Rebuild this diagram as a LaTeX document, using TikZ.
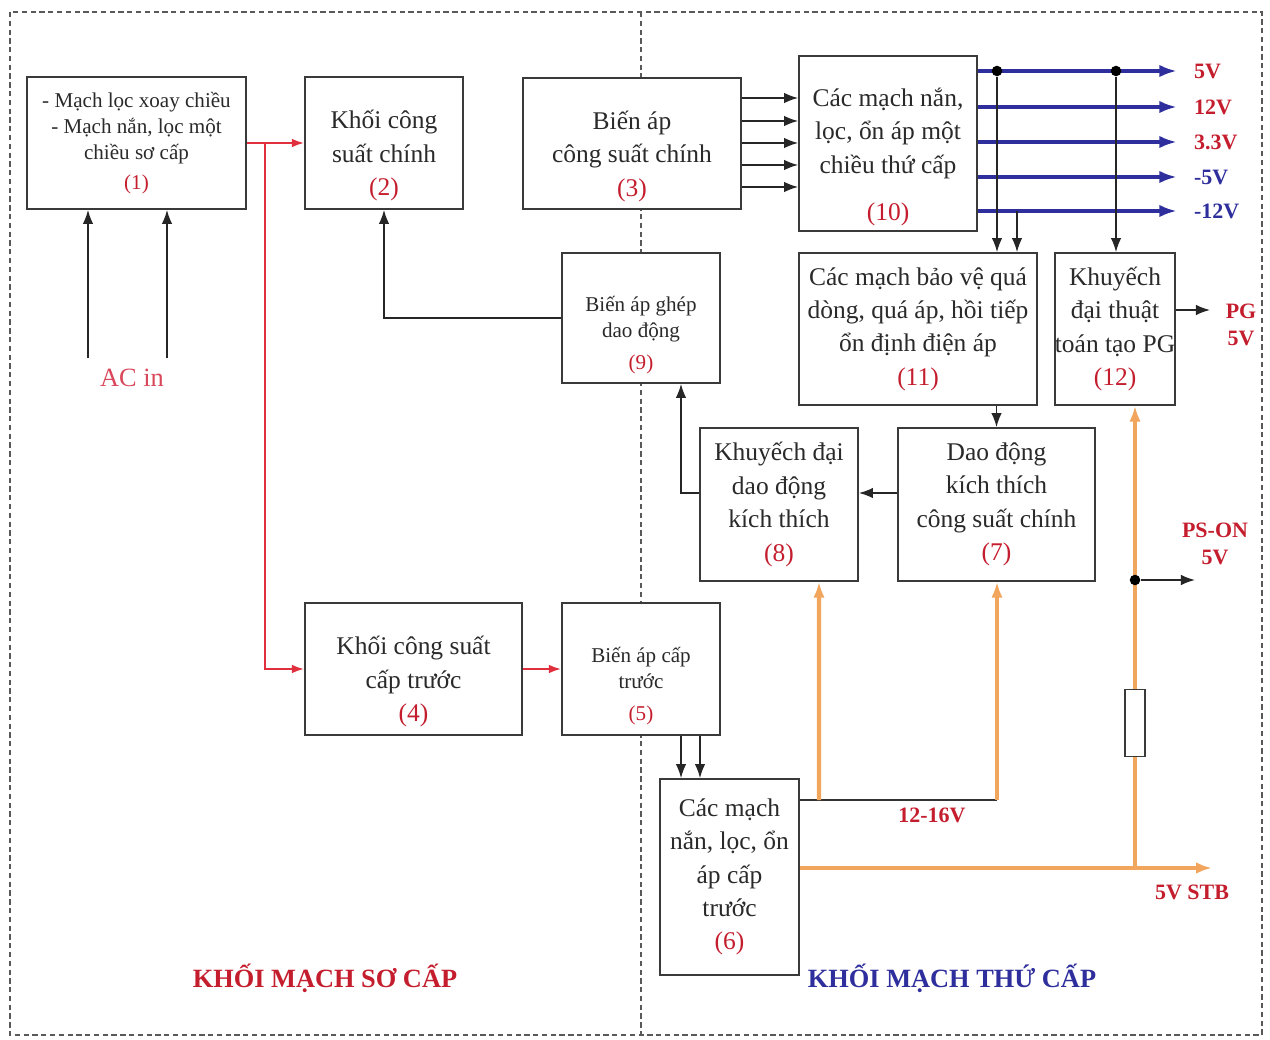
\documentclass[tikz,border=0pt]{standalone}
\usepackage{fontspec}
\setmainfont{Liberation Serif}
\usetikzlibrary{arrows.meta}

\definecolor{numred}{HTML}{C41E2E}
\definecolor{acred}{HTML}{D8485A}
\definecolor{linered}{HTML}{E0303E}
\definecolor{lineblue}{HTML}{2E2E9C}
\definecolor{lineorange}{HTML}{F2A55C}
\definecolor{boxgray}{HTML}{3A3A3A}
\definecolor{txtgray}{HTML}{2A2A2A}

\newcommand{\bnum}[1]{\textcolor{numred}{#1}}
\newcommand{\lowr}[1]{\rule{0pt}{#1}}

\begin{document}
\begin{tikzpicture}[
    x=0.02cm, y=-0.02cm,
    box/.style={draw=boxgray, fill=white, line width=1pt, align=center, inner sep=1pt, text=txtgray, font=\fontsize{14.5}{19}\selectfont},
    smallbox/.style={box, font=\fontsize{12}{15}\selectfont},
    arr/.style={-{Latex[length=8pt,width=6pt]}, line width=0.9pt, draw=black!85},
    redarr/.style={-{Latex[length=7pt,width=5pt]}, line width=1.2pt, draw=linered},
    bluearr/.style={-{Latex[length=10pt,width=7pt]}, line width=2.4pt, draw=lineblue},
    orangearr/.style={-{Latex[length=9pt,width=6.5pt]}, line width=2.4pt, draw=lineorange},
    dot/.style={circle, fill=black, minimum size=6pt, inner sep=0pt},
    lab/.style={font=\bfseries\fontsize{12.5}{15}\selectfont, inner sep=1pt},
    frame/.style={draw=black!65, line width=0.8pt, dash pattern=on 3pt off 2pt}
]
\useasboundingbox (0,0) rectangle (1270,1040);

% ==================== FRAME ====================
\draw[frame] (10,12) rectangle (1262,1035);
\draw[frame] (641,12) -- (641,1035);

% ==================== BLOCKS ====================
\node[smallbox, minimum width=4.38cm, minimum height=2.64cm] (acfilt) at (136.5,143)
    {- Mạch lọc xoay chiều\\- Mạch nắn, lọc một\\chiều sơ cấp\\[2pt]\bnum{(1)}};
\node[box, minimum width=3.16cm, minimum height=2.64cm] (mainpow) at (384,143)
    {\lowr{25pt}Khối công\\suất chính\\\bnum{(2)}};
\node[box, minimum width=4.36cm, minimum height=2.62cm] (maintr) at (632,143.5)
    {\lowr{25pt}Biến áp\\công suất chính\\\bnum{(3)}};
\node[box, minimum width=3.56cm, minimum height=3.5cm] (secrect) at (888,143.5)
    {\lowr{26pt}Các mạch nắn,\\lọc, ổn áp một\\chiều thứ cấp\\[8pt]\bnum{(10)}};
\node[box, minimum width=4.76cm, minimum height=3.04cm] (protect) at (918,329)
    {Các mạch bảo vệ quá\\dòng, quá áp, hồi tiếp\\ổn định điện áp\\\bnum{(11)}};
\node[box, minimum width=2.4cm, minimum height=3.04cm, inner sep=0pt] (pgamp) at (1115,329)
    {Khuyếch\\đại thuật\\toán tạo PG\\\bnum{(12)}};
\node[smallbox, minimum width=3.16cm, minimum height=2.6cm] (coupletr) at (641,318)
    {\lowr{28pt}Biến áp ghép\\dao động\\[3pt]\bnum{(9)}};
\node[box, minimum width=3.16cm, minimum height=3.06cm] (drvamp) at (779,504.5)
    {Khuyếch đại\\dao động\\kích thích\\\bnum{(8)}};
\node[box, minimum width=3.94cm, minimum height=3.06cm] (osc) at (996.5,504.5)
    {Dao động\\kích thích\\công suất chính\\\bnum{(7)}};
\node[box, minimum width=4.34cm, minimum height=2.64cm] (stbypow) at (413.5,669)
    {\lowr{25pt}Khối công suất\\cấp trước\\\bnum{(4)}};
\node[smallbox, minimum width=3.16cm, minimum height=2.64cm] (stbytr) at (641,669)
    {\lowr{28pt}Biến áp cấp\\trước\\[3pt]\bnum{(5)}};
\node[box, minimum width=2.78cm, minimum height=3.92cm] (stbyrect) at (729.5,877)
    {Các mạch\\nắn, lọc, ổn\\áp cấp\\trước\\\bnum{(6)}};

% ==================== PRIMARY SIDE ====================
\node[text=acred, font=\fontsize{15}{18}\selectfont] (acin) at (132,378) {AC in};
\coordinate (ac1) at (88,358);
\coordinate (ac2) at (167,358);
\draw[arr] (ac1) -- (ac1 |- acfilt.south);
\draw[arr] (ac2) -- (ac2 |- acfilt.south);

\coordinate (br1) at (265,143);
\draw[redarr] (acfilt.east) -- (mainpow.west);
\draw[redarr] (br1) |- (stbypow.west);
\draw[redarr] (stbypow.east) -- (stbytr.west);

\draw[arr] (coupletr.west) -| (mainpow.south);

% ==================== SECONDARY SIDE ====================
\foreach \y in {98,121,143,165,187}
    \draw[arr] (maintr.east |- 0,\y) -- (secrect.west |- 0,\y);

\foreach \y/\txt/\col [count=\i] in {71/5V/numred, 107/12V/numred, 142/3.3V/numred, 177/-5V/lineblue, 211/-12V/lineblue} {
    \node[lab, text=\col, anchor=west] (v\i) at (1192,\y) {\txt};
    \draw[bluearr] (secrect.east |- v\i.west) -- ([xshift=-0.3cm]v\i.west);
}

\node[dot] (j1) at (997,71) {};
\node[dot] (j3) at (1116,71) {};
\coordinate (j2) at (1017,211);
\draw[arr] (j1) -- (j1 |- protect.north);
\draw[arr] (j2) -- (j2 |- protect.north);
\draw[arr] (j3) -- (j3 |- pgamp.north);

\node[lab, text=numred, align=center] (pg) at (1241,325) {PG\\5V};
\draw[arr] (pgamp.east |- 0,310) -- (1210,310);

\draw[arr] (protect.south -| osc.north) -- (osc.north);
\draw[arr] (osc.west |- 0,493) -- (drvamp.east |- 0,493);
\draw[arr] (drvamp.west |- 0,493) -| ([xshift=0.8cm]coupletr.south);

\foreach \x in {681,700}
    \draw[arr] (stbytr.south -| \x,0) -- (stbyrect.north -| \x,0);

% 12-16V supply
\coordinate (s12) at (997,800);
\draw[line width=1.6pt, draw=black!80] (stbyrect.east |- s12) -- (s12);
\draw[orangearr] (819,800) -- ([xshift=0.8cm]drvamp.south);
\draw[orangearr] (s12) -- (osc.south -| s12);
\node[lab, text=numred] (v1216) at (932,815) {12-16V};

% 5V standby
\coordinate (stb) at (1212,868);
\coordinate (tap) at (1135,868);
\draw[orangearr] (stbyrect.east |- stb) -- (stb);
\draw[orangearr] (tap) -- (tap |- pgamp.south);
\node[draw=boxgray, fill=white, line width=0.8pt, minimum width=0.4cm, minimum height=1.34cm, inner sep=0pt] (res) at (1135,723) {};
\node[lab, text=numred] (stblab) at (1192,892) {5V STB};

\node[dot] (j4) at (1135,580) {};
\node[lab, text=numred, align=center] (pson) at (1215,544) {PS-ON\\5V};
\draw[arr] (j4) -- (1195,580);

% ==================== TITLES ====================
\node[text=numred, font=\bfseries\fontsize{15}{18}\selectfont] (ttl1) at (325,978) {KHỐI MẠCH SƠ CẤP};
\node[text=lineblue, font=\bfseries\fontsize{15}{18}\selectfont] (ttl2) at (952,978) {KHỐI MẠCH THỨ CẤP};

\end{tikzpicture}
\end{document}
